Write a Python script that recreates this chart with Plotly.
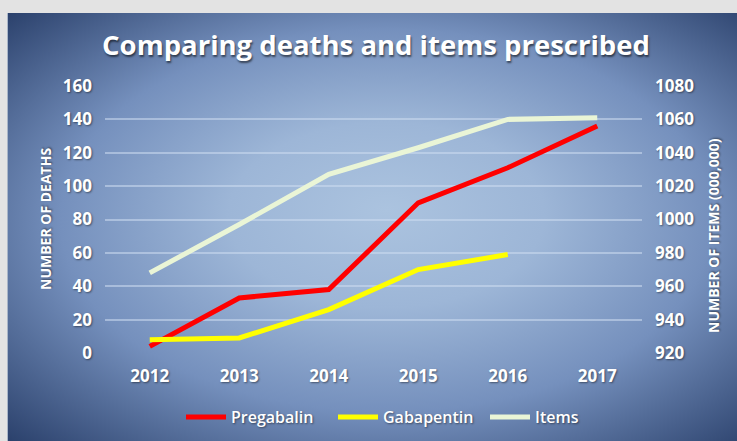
import base64
import plotly.graph_objects as go

years = ["2012", "2013", "2014", "2015", "2016", "2017"]
pregabalin = [4, 33, 38, 90, 111, 136]
gabapentin = [8, 9, 26, 50, 59, None]
items = [968, 997, 1027, 1043, 1060, 1061]

deaths_ticks = [0, 20, 40, 60, 80, 100, 120, 140, 160]
items_ticks = [920, 940, 960, 980, 1000, 1020, 1040, 1060, 1080]

W, H = 737, 441
L, R, T, B = 105, 95, 86, 88
PW, PH = W - L - R, H - T - B

def px_to_paper_x(px):
    return (px - L) / PW

def px_to_paper_y(py):
    return (H - B - py) / PH

svg = """<svg xmlns='http://www.w3.org/2000/svg' width='730' height='428' viewBox='0 0 730 428' preserveAspectRatio='none'>
<defs><radialGradient id='g' cx='0.52' cy='0.5' r='0.72' fx='0.52' fy='0.46'>
<stop offset='0' stop-color='#abc3df'/>
<stop offset='0.3' stop-color='#9db6d7'/>
<stop offset='0.62' stop-color='#7590bd'/>
<stop offset='1' stop-color='#2b416c'/>
</radialGradient></defs>
<rect width='730' height='428' fill='url(#g)'/>
</svg>"""
src = "data:image/svg+xml;base64," + base64.b64encode(svg.encode()).decode()

font_family = "Open Sans, Calibri, sans-serif"
white = "#ffffff"
shadow = "1px 1px 2px rgba(0,0,0,0.45)"

fig = go.Figure()
fig.add_trace(go.Scatter(x=years, y=pregabalin, name="Pregabalin", mode="lines",
                         line=dict(color="#ff0000", width=5)))
fig.add_trace(go.Scatter(x=years, y=gabapentin, name="Gabapentin", mode="lines",
                         line=dict(color="#ffff00", width=5)))
fig.add_trace(go.Scatter(x=years, y=items, name="Items", mode="lines", yaxis="y2",
                         line=dict(color="#eaf5d6", width=5)))

tickfont = dict(family=font_family, size=17, color=white, weight="bold", shadow=shadow)

fig.update_layout(
    width=W, height=H,
    margin=dict(l=L, r=R, t=T, b=B, autoexpand=False),
    paper_bgcolor="#e3e3e3",
    plot_bgcolor="rgba(0,0,0,0)",
    images=[dict(source=src, xref="paper", yref="paper",
                 x=px_to_paper_x(7), y=px_to_paper_y(13),
                 sizex=(W - 7) / PW, sizey=(H - 13) / PH,
                 xanchor="left", yanchor="top", sizing="stretch", layer="below")],
    title=dict(text="Comparing deaths and items prescribed",
               x=376 / W, xanchor="center", xref="container",
               y=1 - 45 / H, yanchor="middle", yref="container",
               font=dict(family=font_family, size=27.5, color=white, weight="bold",
                         shadow="1px 2px 2px rgba(0,0,0,0.55)")),
    xaxis=dict(type="category", range=[-0.5, 5.5], showgrid=False, zeroline=False,
               showline=False, ticks="", ticklabelstandoff=11, tickfont=tickfont),
    yaxis=dict(range=[0, 160], tickvals=deaths_ticks, showgrid=True,
               gridcolor="rgba(205,220,240,0.55)", gridwidth=1.5, zeroline=False,
               showline=False, ticks="", ticklabelstandoff=12, tickfont=tickfont),
    yaxis2=dict(range=[920, 1080], tickvals=items_ticks, overlaying="y", side="right",
                showgrid=False, zeroline=False, showline=False, ticks="",
                ticklabelstandoff=12, tickfont=tickfont),
    legend=dict(orientation="h", x=px_to_paper_x(181), xanchor="left",
                y=px_to_paper_y(417), yanchor="middle", bgcolor="rgba(0,0,0,0)",
                font=dict(family=font_family, size=16, color=white, weight=600,
                          shadow=shadow),
                itemwidth=40, entrywidth=97, entrywidthmode="pixels", tracegroupgap=0),
    annotations=[
        dict(text="NUMBER OF DEATHS", textangle=-90, xref="paper", yref="paper",
             x=px_to_paper_x(45), y=px_to_paper_y(219), xanchor="center", yanchor="middle",
             showarrow=False,
             font=dict(family=font_family, size=14, color=white, weight="bold", shadow=shadow)),
        dict(text="NUMBER OF ITEMS (000,000)", textangle=-90, xref="paper", yref="paper",
             x=px_to_paper_x(713), y=px_to_paper_y(236), xanchor="center", yanchor="middle",
             showarrow=False,
             font=dict(family=font_family, size=14, color=white, weight="bold", shadow=shadow)),
    ],
    shapes=[dict(type="line", xref="paper", yref="paper",
                 x0=px_to_paper_x(7.5), x1=px_to_paper_x(7.5),
                 y0=px_to_paper_y(13), y1=px_to_paper_y(441),
                 line=dict(color="#aab6c8", width=1), layer="below")],
)

fig.write_html("out.html")
